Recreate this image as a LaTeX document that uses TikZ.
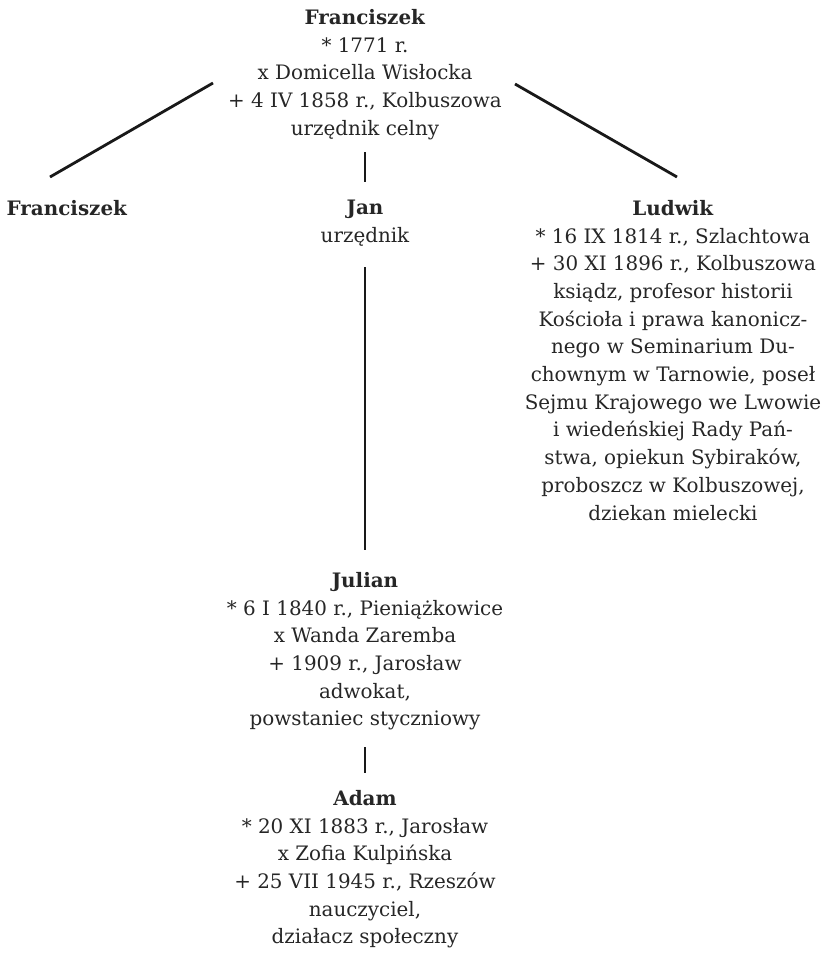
\documentclass[tikz,border=0pt]{standalone}
\usepackage{fontspec}
\setmainfont{DejaVu Serif}
\begin{document}
\begin{tikzpicture}[x=1pt,y=-1pt]
    \tikzstyle{every node}=[anchor=north,align=center,inner sep=0pt,text=black!85,font=\fontsize{19.9}{27.7}\selectfont];
    \tikzstyle{link}=[draw=black!90,line width=2.8pt];
    \useasboundingbox (0,0) rectangle (822,953);
    \node at (365, 9)   (fran) {\textbf{Franciszek}\\* 1771 r.\\x Domicella Wisłocka\\+ 4 IV 1858 r., Kolbuszowa\\urzędnik celny};
    \node at (67, 200)  (franjr) {\textbf{Franciszek}};
    \node at (365, 200) (jan) {\textbf{Jan}\\urzędnik};
    \node at (673, 200) (ludwik) {\textbf{Ludwik}\\* 16 IX 1814 r., Szlachtowa\\+ 30 XI 1896 r., Kolbuszowa\\ksiądz, profesor historii\\Kościoła i prawa kanonicz-\\nego w Seminarium Du-\\chownym w Tarnowie, poseł\\Sejmu Krajowego we Lwowie\\i wiedeńskiej Rady Pań-\\stwa, opiekun Sybiraków,\\proboszcz w Kolbuszowej,\\dziekan mielecki};
    \node at (365, 572) (julian) {\textbf{Julian}\\* 6 I 1840 r., Pieniążkowice\\x Wanda Zaremba\\+ 1909 r., Jarosław\\adwokat,\\powstaniec styczniowy};
    \node at (365, 790) (adam) {\textbf{Adam}\\* 20 XI 1883 r., Jarosław\\x Zofia Kulpińska\\+ 25 VII 1945 r., Rzeszów\\nauczyciel,\\działacz społeczny};
    % free ends of the slanted lines
    \coordinate (fl1) at (213, 83);
    \coordinate (fl2) at (50, 177);
    \coordinate (fr1) at (515, 84);
    \coordinate (fr2) at (677, 177);
\draw[link] (fl1) -- (fl2);
\draw[link] (fr1) -- (fr2);
\draw[link,shorten <=12.6pt,shorten >=18pt] (fran) -- (jan);
\draw[link,shorten <=20.7pt,shorten >=22pt] (jan) -- (julian);
\draw[link,shorten <=17pt,shorten >=17pt] (julian) -- (adam);
\end{tikzpicture}
\end{document}
